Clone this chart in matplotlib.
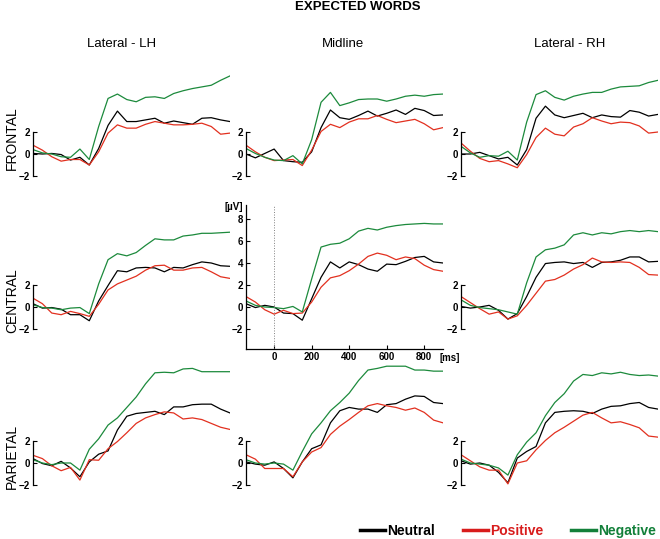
import matplotlib
matplotlib.use("Agg")
import matplotlib.pyplot as plt
from matplotlib.lines import Line2D

plt.rcParams['font.family'] = ['Liberation Sans', 'DejaVu Sans']

# time axis (ms)
times = [-150, -100, -50, 0, 50, 100, 150, 200, 250, 300, 350, 400,
         450, 500, 550, 600, 650, 700, 750, 800, 850, 900]

# FRONTAL
frontal_lh_neutral = [0.05, 0.0, 0.05, -0.05, -0.55, -0.3, -1.0, 0.5, 2.6, 3.9, 2.95, 2.95, 3.1, 3.25, 2.8, 3.0, 2.85, 2.7, 3.25, 3.3, 3.1, 2.95]
frontal_lh_positive = [0.8, 0.35, -0.25, -0.65, -0.5, -0.5, -1.0, 0.2, 1.9, 2.65, 2.35, 2.35, 2.7, 2.95, 2.8, 2.65, 2.65, 2.7, 2.8, 2.5, 1.8, 1.9]
frontal_lh_negative = [0.4, 0.1, 0.0, -0.25, -0.3, 0.45, -0.5, 2.5, 5.05, 5.45, 4.95, 4.75, 5.15, 5.2, 5.05, 5.5, 5.75, 5.95, 6.1, 6.25, 6.7, 7.1]

frontal_mid_neutral = [0.0, -0.35, 0.05, 0.45, -0.6, -0.7, -0.75, 0.2, 2.4, 4.0, 3.3, 3.15, 3.5, 3.9, 3.45, 3.7, 4.0, 3.6, 4.15, 3.95, 3.5, 3.55]
frontal_mid_positive = [0.8, 0.2, -0.3, -0.6, -0.55, -0.5, -1.05, 0.35, 2.05, 2.7, 2.4, 2.9, 3.2, 3.2, 3.5, 3.15, 2.85, 3.0, 3.15, 2.75, 2.2, 2.4]
frontal_mid_negative = [0.5, 0.05, -0.3, -0.55, -0.6, -0.15, -0.9, 1.3, 4.7, 5.6, 4.4, 4.65, 4.95, 5.0, 5.0, 4.8, 5.0, 5.25, 5.35, 5.25, 5.4, 5.45]

frontal_rh_neutral = [0.0, 0.0, 0.15, -0.15, -0.45, -0.3, -1.0, 0.4, 3.25, 4.35, 3.55, 3.3, 3.5, 3.7, 3.3, 3.55, 3.4, 3.35, 3.95, 3.8, 3.45, 3.6]
frontal_rh_positive = [1.0, 0.25, -0.4, -0.7, -0.6, -0.9, -1.25, -0.05, 1.5, 2.35, 1.8, 1.65, 2.45, 2.75, 3.3, 3.0, 2.75, 2.9, 2.85, 2.55, 1.9, 2.0]
frontal_rh_negative = [0.7, 0.1, -0.3, -0.15, -0.2, 0.25, -0.55, 2.9, 5.4, 5.75, 5.15, 4.9, 5.25, 5.45, 5.6, 5.6, 5.9, 6.1, 6.15, 6.2, 6.5, 6.7]

# CENTRAL
central_lh_neutral = [0.3, -0.1, -0.05, -0.2, -0.7, -0.7, -1.25, 0.55, 1.95, 3.3, 3.2, 3.55, 3.6, 3.55, 3.2, 3.6, 3.55, 3.85, 4.1, 4.0, 3.75, 3.7]
central_lh_positive = [0.8, 0.3, -0.55, -0.7, -0.4, -0.6, -0.85, 0.25, 1.55, 2.1, 2.45, 2.8, 3.35, 3.75, 3.8, 3.35, 3.35, 3.55, 3.6, 3.2, 2.75, 2.6]
central_lh_negative = [0.2, -0.05, -0.1, -0.25, -0.1, -0.05, -0.6, 2.1, 4.3, 4.85, 4.65, 4.95, 5.6, 6.2, 6.1, 6.1, 6.45, 6.55, 6.7, 6.7, 6.75, 6.8]

central_mid_neutral = [0.3, -0.05, 0.15, 0.0, -0.55, -0.6, -1.2, 0.75, 2.7, 4.1, 3.55, 4.1, 3.85, 3.45, 3.25, 3.9, 3.85, 4.15, 4.5, 4.6, 4.1, 4.0]
central_mid_positive = [0.95, 0.45, -0.25, -0.65, -0.3, -0.6, -0.55, 0.45, 1.8, 2.65, 2.85, 3.3, 3.9, 4.6, 4.9, 4.7, 4.3, 4.55, 4.4, 3.8, 3.4, 3.25]
central_mid_negative = [0.55, 0.15, 0.0, -0.05, -0.15, 0.05, -0.45, 2.55, 5.45, 5.7, 5.8, 6.2, 6.9, 7.15, 7.0, 7.25, 7.4, 7.5, 7.55, 7.6, 7.55, 7.55]

central_rh_neutral = [0.05, -0.1, 0.0, 0.15, -0.3, -1.1, -0.6, 0.95, 2.7, 3.95, 4.05, 4.1, 3.95, 4.05, 3.6, 4.05, 4.1, 4.25, 4.55, 4.55, 4.1, 4.15]
central_rh_positive = [0.95, 0.4, -0.15, -0.65, -0.45, -1.1, -0.8, 0.15, 1.25, 2.35, 2.5, 2.9, 3.45, 3.85, 4.45, 4.1, 4.05, 4.1, 4.05, 3.6, 2.95, 2.9]
central_rh_negative = [0.65, 0.15, -0.05, -0.15, -0.25, -0.45, -0.65, 2.2, 4.55, 5.2, 5.35, 5.65, 6.55, 6.75, 6.55, 6.75, 6.65, 6.85, 6.95, 6.85, 6.95, 6.85]

# PARIETAL
parietal_lh_neutral = [0.4, -0.05, -0.25, 0.15, -0.45, -1.25, 0.1, 0.8, 1.1, 3.0, 4.25, 4.5, 4.6, 4.7, 4.4, 5.1, 5.1, 5.3, 5.35, 5.35, 4.9, 4.55]
parietal_lh_positive = [0.7, 0.4, -0.25, -0.7, -0.4, -1.55, 0.3, 0.25, 1.3, 1.95, 2.75, 3.6, 4.1, 4.4, 4.65, 4.55, 4.0, 4.1, 3.95, 3.6, 3.25, 3.05]
parietal_lh_negative = [0.3, 0.0, -0.15, 0.0, 0.0, -0.65, 1.25, 2.2, 3.45, 4.1, 5.05, 6.0, 7.2, 8.2, 8.25, 8.2, 8.55, 8.6, 8.3, 8.3, 8.3, 8.3]

parietal_mid_neutral = [0.1, -0.1, -0.2, 0.1, -0.5, -1.35, 0.1, 1.3, 1.65, 3.65, 4.75, 5.05, 4.9, 4.9, 4.6, 5.3, 5.4, 5.8, 6.1, 6.05, 5.5, 5.4]
parietal_mid_positive = [0.75, 0.35, -0.5, -0.5, -0.5, -1.25, 0.1, 1.0, 1.4, 2.6, 3.35, 3.95, 4.6, 5.2, 5.4, 5.2, 5.05, 4.8, 5.0, 4.6, 3.9, 3.65]
parietal_mid_negative = [0.3, 0.0, -0.1, 0.0, -0.1, -0.65, 1.05, 2.65, 3.65, 4.75, 5.5, 6.35, 7.5, 8.45, 8.6, 8.8, 8.8, 8.8, 8.45, 8.45, 8.35, 8.35]

parietal_rh_neutral = [0.2, -0.1, 0.0, -0.2, -0.85, -1.8, 0.45, 1.05, 1.5, 3.65, 4.6, 4.7, 4.75, 4.7, 4.5, 4.9, 5.15, 5.2, 5.4, 5.5, 5.05, 4.9]
parietal_rh_positive = [0.75, 0.2, -0.35, -0.65, -0.65, -1.9, 0.0, 0.2, 1.2, 2.05, 2.75, 3.25, 3.8, 4.35, 4.6, 4.1, 3.65, 3.75, 3.5, 3.2, 2.45, 2.35]
parietal_rh_negative = [0.35, 0.0, -0.1, -0.2, -0.45, -1.1, 0.75, 1.9, 2.75, 4.3, 5.5, 6.3, 7.45, 8.05, 7.95, 8.2, 8.1, 8.25, 8.05, 7.95, 8.0, 7.9]

rows = ["FRONTAL", "CENTRAL", "PARIETAL"]
cols = ["Lateral - LH", "Midline", "Lateral - RH"]
conditions = ["Neutral", "Positive", "Negative"]
colors = ["black", "#e2301f", "#1c8a3c"]
legend_colors = ["black", "#d81c1c", "#12803a"]

panels = [
    [(frontal_lh_neutral, frontal_lh_positive, frontal_lh_negative),
     (frontal_mid_neutral, frontal_mid_positive, frontal_mid_negative),
     (frontal_rh_neutral, frontal_rh_positive, frontal_rh_negative)],
    [(central_lh_neutral, central_lh_positive, central_lh_negative),
     (central_mid_neutral, central_mid_positive, central_mid_negative),
     (central_rh_neutral, central_rh_positive, central_rh_negative)],
    [(parietal_lh_neutral, parietal_lh_positive, parietal_lh_negative),
     (parietal_mid_neutral, parietal_mid_positive, parietal_mid_negative),
     (parietal_rh_neutral, parietal_rh_positive, parietal_rh_negative)],
]

W, H = 660, 539
fig = plt.figure(figsize=(W / 100, H / 100), dpi=100)

lefts = [33, 246, 461]       # px
zeros = [154, 307, 463]      # px of 0 uV
px_per_uv = 11.0
ymin, ymax = -3.8, 9.3
ax_w = 197

for r in range(3):
    for c in range(3):
        top = zeros[r] - ymax * px_per_uv
        bot = zeros[r] - ymin * px_per_uv
        ax = fig.add_axes([lefts[c] / W, 1 - bot / H, ax_w / W, (bot - top) / H])
        ax.set_xlim(-150, 900)
        ax.set_ylim(ymin, ymax)
        for s, col in zip(panels[r][c], colors):
            ax.plot(times, s, color=col, lw=0.9)
        ax.spines['top'].set_visible(False)
        ax.spines['right'].set_visible(False)
        ax.spines['left'].set_linewidth(0.9)
        ax.patch.set_alpha(0)
        ax.tick_params(direction='in', length=3, width=0.8, pad=2, labelsize=7)
        if r == 1 and c == 1:
            ax.spines['bottom'].set_linewidth(0.9)
            ax.set_yticks([-2, 0, 2, 4, 6, 8])
            ax.set_xticks([0, 200, 400, 600, 800])
            ax.axvline(0, color='gray', lw=0.7, ls=':')
            for lab in ax.get_xticklabels() + ax.get_yticklabels():
                lab.set_fontweight('bold')
        else:
            ax.spines['bottom'].set_visible(False)
            ax.spines['left'].set_bounds(-2, 2)
            ax.set_xticks([])
            ax.set_yticks([-2, 0, 2])
            for lab in ax.get_yticklabels():
                lab.set_fontweight('bold')

fig.text(243 / W, 1 - 207 / H, "[µV]", ha='right', va='center', fontsize=7, fontweight='bold')
fig.text(440 / W, 1 - 358 / H, "[ms]", ha='left', va='center', fontsize=7, fontweight='bold')

fig.text(358 / W, 1 - 7 / H, "EXPECTED WORDS", ha='center', va='center', fontsize=9.5, fontweight='bold')
for x, t in zip([122, 343, 570], cols):
    fig.text(x / W, 1 - 44 / H, t, ha='center', va='center', fontsize=9.5)
for y, t in zip([138, 301, 456], rows):
    fig.text(12 / W, 1 - y / H, t, ha='center', va='center', fontsize=10, rotation=90)

handles = [Line2D([], [], color=col, lw=2.5) for col in legend_colors]
leg = fig.legend(handles, conditions, loc='center', bbox_to_anchor=(508 / W, 1 - 531 / H),
                 ncol=3, frameon=False, handlelength=1.8, handletextpad=0.15,
                 columnspacing=2.0, prop={'weight': 'bold', 'size': 10},
                 labelcolor=legend_colors, borderpad=0, borderaxespad=0)

fig.savefig("out.png", dpi=100)
